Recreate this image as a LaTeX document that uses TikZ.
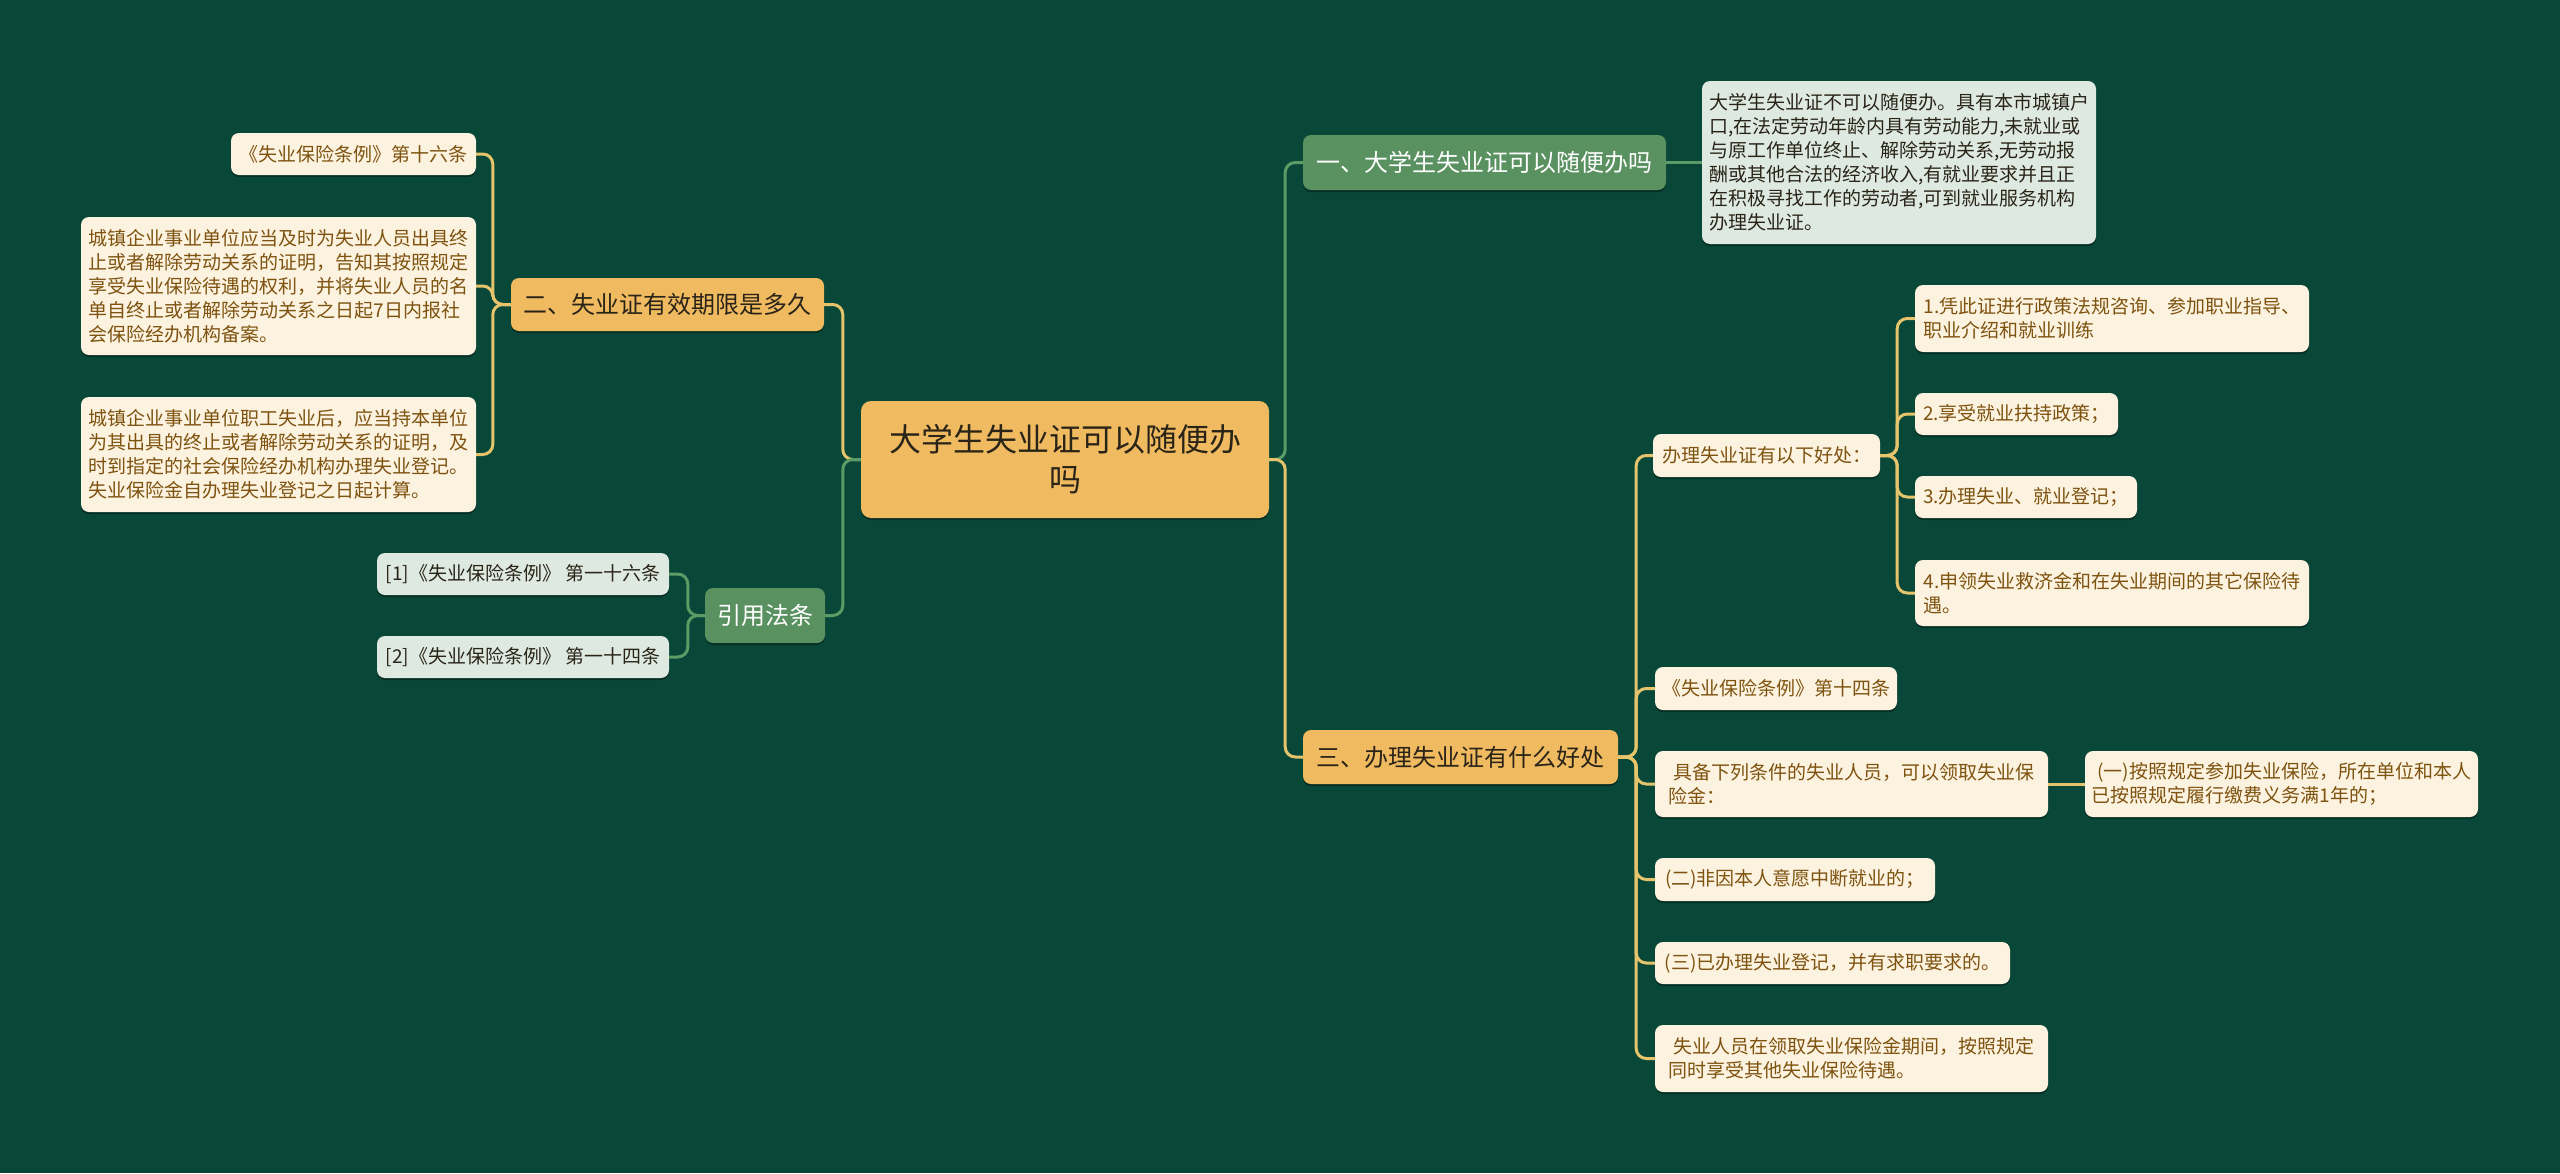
\documentclass[tikz,border=0pt]{standalone}
\usepackage{fontspec}
\setmainfont{Noto Sans CJK SC}
\usetikzlibrary{shadows}
\definecolor{bg}{HTML}{094838}
\definecolor{gold}{HTML}{F0BA60}
\definecolor{midgreen}{HTML}{5A9160}
\definecolor{cream}{HTML}{FCF2E0}
\definecolor{palegreen}{HTML}{DEEAE1}
\definecolor{goldtext}{HTML}{7E530F}
\definecolor{darktext}{HTML}{2A2418}
\definecolor{linegold}{HTML}{E6C46C}
\definecolor{linegreen}{HTML}{5C9A66}
\tikzset{
  boxbase/.style={rounded corners=8, inner xsep=0pt, inner ysep=0pt, align=left,
    drop shadow={shadow xshift=0pt, shadow yshift=-2pt, fill=black, opacity=0.35}},
  leafgold/.style={boxbase, fill=cream, text=goldtext, font=\fontsize{19}{24}\selectfont},
  leafgreen/.style={boxbase, fill=palegreen, text=darktext, font=\fontsize{19}{24}\selectfont},
  topicgold/.style={boxbase, align=center, fill=gold, text=darktext, font=\fontsize{24}{30}\selectfont},
  topicgreen/.style={boxbase, align=center, fill=midgreen, text=white, font=\fontsize{24}{30}\selectfont},
  rootbox/.style={boxbase, align=center, rounded corners=10, fill=gold, text=darktext, font=\fontsize{32}{40}\selectfont},
  conngold/.style={draw=linegold, line width=3pt, rounded corners=10},
  conngreen/.style={draw=linegreen, line width=3pt, rounded corners=10}
}
\begin{document}
\begin{tikzpicture}[x=1pt,y=-1pt]
\useasboundingbox[fill=bg] (0,0) rectangle (2560,1173);

% connectors from root
\coordinate (rootE) at (1269,459.5);
% root
\node[rootbox, minimum width=408, minimum height=117] (root) at (1065,459.5) {大学生失业证可以随便办\\吗};

% topics
\node[topicgreen, minimum width=363, minimum height=55] (t1) at (1484.5,162.5) {一、大学生失业证可以随便办吗};
\node[topicgold, minimum width=313, minimum height=53] (t2) at (667.5,304.5) {二、失业证有效期限是多久};
\node[topicgold, minimum width=315, minimum height=54] (t3) at (1460.5,757) {三、办理失业证有什么好处};
\node[topicgreen, minimum width=120, minimum height=55] (t4) at (765,615.5) {引用法条};

% topic 1 leaf
\node[leafgreen, minimum width=394, minimum height=163] (a1) at (1899,162.5) {大学生失业证不可以随便办。具有本市城镇户\\口,在法定劳动年龄内具有劳动能力,未就业或\\与原工作单位终止、解除劳动关系,无劳动报\\酬或其他合法的经济收入,有就业要求并且正\\在积极寻找工作的劳动者,可到就业服务机构\\办理失业证。};

% topic 2 leaves
\node[leafgold, minimum width=245, minimum height=42] (l1) at (353.5,154) {《失业保险条例》第十六条};
\node[leafgold, minimum width=395, minimum height=138] (l2) at (278.5,286) {城镇企业事业单位应当及时为失业人员出具终\\止或者解除劳动关系的证明，告知其按照规定\\享受失业保险待遇的权利，并将失业人员的名\\单自终止或者解除劳动关系之日起7日内报社\\会保险经办机构备案。};
\node[leafgold, minimum width=395, minimum height=115] (l3) at (278.5,454.5) {城镇企业事业单位职工失业后，应当持本单位\\为其出具的终止或者解除劳动关系的证明，及\\时到指定的社会保险经办机构办理失业登记。\\失业保险金自办理失业登记之日起计算。};

% topic 4 leaves
\node[leafgreen, minimum width=292, minimum height=42] (r1) at (523,574) {[1]《失业保险条例》 第一十六条};
\node[leafgreen, minimum width=292, minimum height=42] (r2) at (523,657) {[2]《失业保险条例》 第一十四条};

% topic 3 leaves
\node[leafgold, minimum width=227, minimum height=43] (b0) at (1766.5,455.5) {办理失业证有以下好处：};
\node[leafgold, minimum width=394, minimum height=67] (b1) at (2112,318.5) {1.凭此证进行政策法规咨询、参加职业指导、\\职业介绍和就业训练};
\node[leafgold, minimum width=203, minimum height=42] (b2) at (2016.5,414) {2.享受就业扶持政策；};
\node[leafgold, minimum width=222, minimum height=42] (b3) at (2026,497) {3.办理失业、就业登记；};
\node[leafgold, minimum width=394, minimum height=66] (b4) at (2112,593) {4.申领失业救济金和在失业期间的其它保险待\\遇。};

\node[leafgold, minimum width=242, minimum height=43] (c1) at (1776,688.5) {《失业保险条例》第十四条};
\node[leafgold, minimum width=393, minimum height=66] (c2) at (1851.5,784) {\hspace{0.3em}具备下列条件的失业人员，可以领取失业保\\险金：};
\node[leafgold, minimum width=393, minimum height=66] (c2a) at (2281.5,784) {\hspace{0.3em}(一)按照规定参加失业保险，所在单位和本人\\已按照规定履行缴费义务满1年的；};
\node[leafgold, minimum width=280, minimum height=43] (c3) at (1795,879.5) {(二)非因本人意愿中断就业的；};
\node[leafgold, minimum width=355, minimum height=42] (c4) at (1832.5,963) {(三)已办理失业登记，并有求职要求的。};
\node[leafgold, minimum width=393, minimum height=67] (c5) at (1851.5,1058.5) {\hspace{0.3em}失业人员在领取失业保险金期间，按照规定\\同时享受其他失业保险待遇。};

% connectors from root
\draw[conngreen] (root.east) -- ++(16,0) |- (t1.west);
\draw[conngold] (root.east) -- ++(16,0) |- (t3.west);
\draw[conngold] (root.west) -- ++(-18,0) |- (t2.east);
\draw[conngreen] (root.west) -- ++(-18,0) |- (t4.east);

% topic 1
\draw[conngreen] (t1.east) -- (a1.west);

% topic 2
\foreach \c in {l1,l2,l3} \draw[conngold] (t2.west) -- ++(-18,0) |- (\c.east);

% topic 4
\foreach \c in {r1,r2} \draw[conngreen] (t4.west) -- ++(-17,0) |- (\c.east);

% topic 3
\foreach \c in {b0,c1,c2,c3,c4,c5} \draw[conngold] (t3.east) -- ++(18,0) |- (\c.west);
\foreach \c in {b1,b2,b3,b4} \draw[conngold] (b0.east) -- ++(17,0) |- (\c.west);
\draw[conngold] (c2.east) -- (c2a.west);
\end{tikzpicture}
\end{document}
